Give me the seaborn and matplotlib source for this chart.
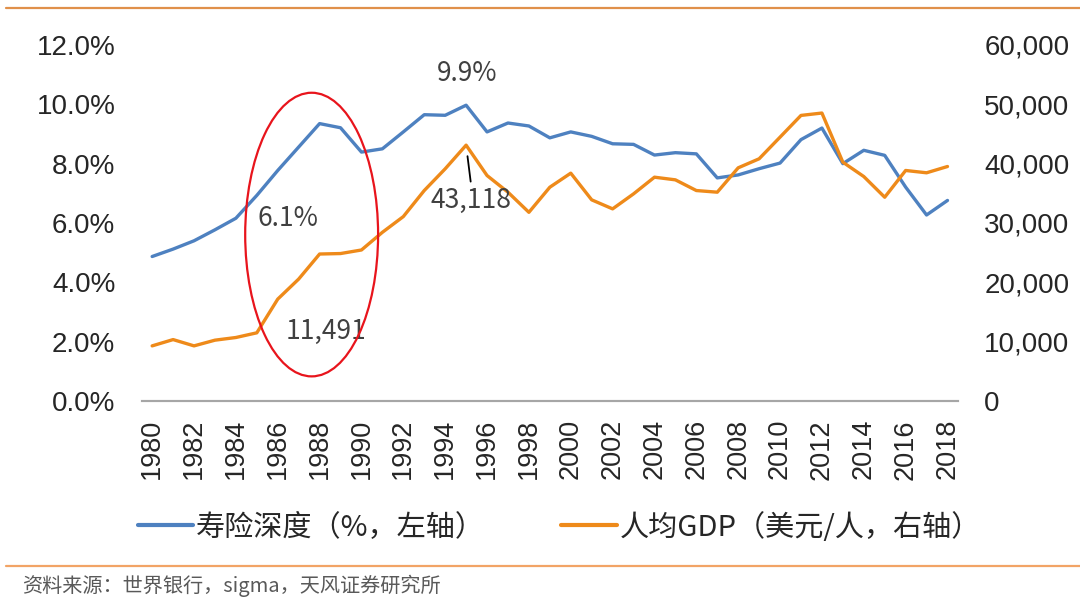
import matplotlib
matplotlib.use('Agg')
import matplotlib.pyplot as plt
import seaborn as sns
from matplotlib.patches import Ellipse
from matplotlib.lines import Line2D
from matplotlib.ticker import FuncFormatter

years = list(range(1980, 2019))

# insurance depth, % of GDP (left axis)
depth = [4.87, 5.12, 5.40, 5.77, 6.16, 6.93, 7.77, 8.56, 9.35, 9.21,
         8.39, 8.50, 9.07, 9.65, 9.63, 9.97, 9.07, 9.37, 9.27, 8.87,
         9.07, 8.92, 8.67, 8.65, 8.29, 8.37, 8.33, 7.52, 7.62, 7.83,
         8.02, 8.81, 9.20, 8.00, 8.45, 8.28, 7.21, 6.27, 6.76]

# GDP per capita, USD (right axis)
gdp = [9290, 10350, 9290, 10250, 10700, 11491, 17170, 20550, 24770, 24850,
       25450, 28430, 31080, 35470, 39130, 43118, 38000, 35190, 31800, 36030,
       38400, 33900, 32380, 34910, 37720, 37270, 35470, 35190, 39300, 40820,
       44470, 48130, 48530, 40250, 37830, 34340, 38850, 38460, 39520]

depth_label = '寿险深度（%，左轴）'
gdp_label = '人均GDP（美元/人，右轴）'
source_text = '资料来源：世界银行，sigma，天风证券研究所'

BLUE = '#4e81c0'
ORANGE = '#ee8a1a'
TICK_FONT = ['Liberation Sans', 'Noto Sans CJK SC']
CJK_FONT = ['Noto Sans CJK SC', 'DejaVu Sans']

sns.set_theme(style='white')
plt.rcParams['font.family'] = TICK_FONT

fig = plt.figure(figsize=(10.8, 6.03), dpi=100)
ax = fig.add_axes([0.1312, 0.335, 0.7558, 0.5904])
ax2 = ax.twinx()

sns.lineplot(x=years, y=depth, ax=ax, color=BLUE, linewidth=2.4)
sns.lineplot(x=years, y=gdp, ax=ax2, color=ORANGE, linewidth=2.4)

ax.set_xlim(1979.5, 2018.5)
ax.set_ylim(0, 12)
ax2.set_ylim(0, 60000)
ax.set_xticks(years[::2])
ax.set_yticks(range(0, 13, 2))
ax2.set_yticks(range(0, 60001, 10000))
ax.yaxis.set_major_formatter(FuncFormatter(lambda v, p: f'{v:.1f}%'))
ax2.yaxis.set_major_formatter(FuncFormatter(lambda v, p: f'{v:,.0f}'))

ax.tick_params(axis='x', labelrotation=90, length=0, pad=13, labelsize=19.5, labelcolor='#262626')
ax.tick_params(axis='y', length=0, pad=19, labelsize=20, labelcolor='#262626')
ax2.tick_params(axis='y', length=0, pad=19, labelsize=20, labelcolor='#262626')

for a in (ax, ax2):
    for side in ('top', 'left', 'right'):
        a.spines[side].set_visible(False)
    a.spines['bottom'].set_color('#a6a6a6')
    a.spines['bottom'].set_linewidth(1.5)
    a.set_xlabel('')
    a.set_ylabel('')
    a.grid(False)

# annotations
note_kw = dict(fontsize=19, color='#404040', family=CJK_FONT, ha='center', va='center')
ax.text(1995.05, 11.05, '9.9%', **note_kw)
ax.text(1986.5, 6.15, '6.1%', **note_kw)
ax2.text(1988.3, 11800, '11,491', **note_kw)
ax2.annotate('43,118', xy=(1995, 43118), xytext=(1995.25, 33800),
             textcoords='data',
             arrowprops=dict(arrowstyle='-', color='black', lw=1.3,
                             shrinkA=1.5, shrinkB=8, relpos=(0.5, 1)),
             **note_kw)

ax2.add_patch(Ellipse((1987.62, 28050), width=6.35, height=47800,
                      fill=False, edgecolor='#e8141c', linewidth=1.6, zorder=5))

handles = [Line2D([], [], color=BLUE, linewidth=3),
           Line2D([], [], color=ORANGE, linewidth=3)]
fig.legend(handles, [depth_label, gdp_label], loc='center', bbox_to_anchor=(0.518, 0.125),
           ncol=2, frameon=False, prop={'family': CJK_FONT, 'size': 21},
           handlelength=1.9, handletextpad=0.1, columnspacing=2.6, labelcolor='#262626')

# page rules and source note
fig.add_artist(Line2D([0.006, 1.0], [1 - 8 / 603, 1 - 8 / 603], color='#e0904a', linewidth=1.6))
fig.add_artist(Line2D([0.006, 1.0], [1 - 566 / 603, 1 - 566 / 603], color='#f2a466', linewidth=1.6))
fig.text(0.02, 1 - 586 / 603, source_text, fontsize=14.5, color='#595959',
         family=CJK_FONT, ha='left', va='center')

fig.savefig('out.png', dpi=100, facecolor='white')
